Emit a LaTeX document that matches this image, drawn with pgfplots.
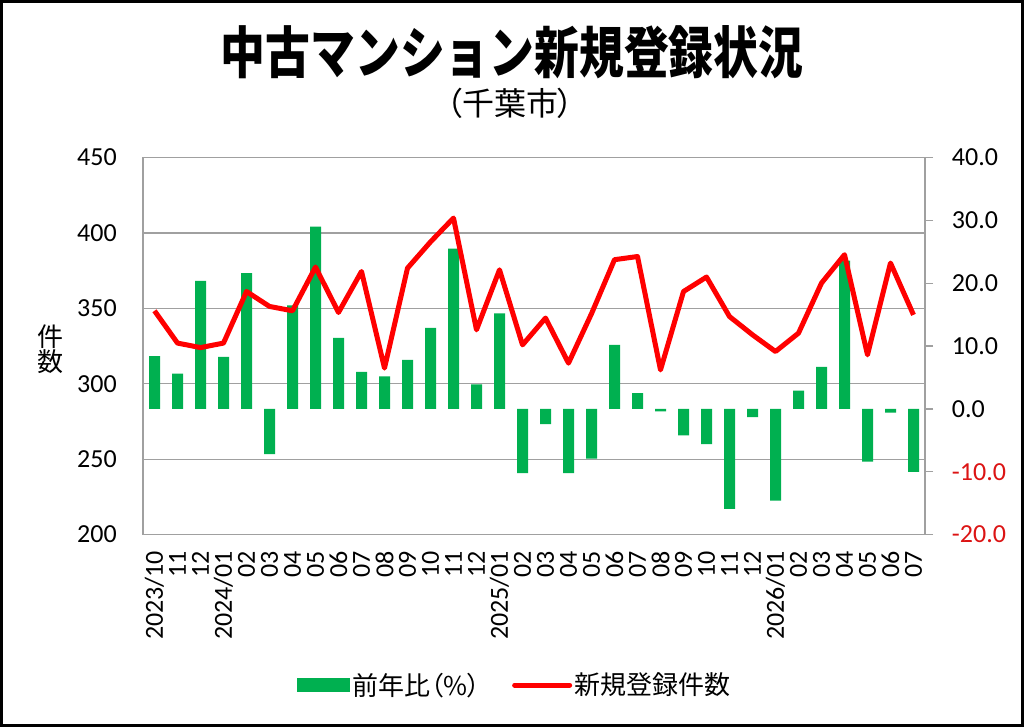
\documentclass[border=0pt]{standalone}
\usepackage{fontspec}
\setmainfont{Carlito}
\newfontfamily\jp{Noto Sans CJK JP}
\newfontfamily\jpp[RawFeature=+palt]{Noto Sans CJK JP}
\usepackage{graphicx}
\usepackage{pgfplots}
\pgfplotsset{compat=1.18}
\definecolor{bargreen}{RGB}{0,176,80}
\definecolor{linered}{RGB}{255,0,0}
\definecolor{gridgray}{RGB}{160,160,160}
\definecolor{negred}{RGB}{220,20,20}
\pgfplotsset{myaxis/.style={scale only axis, width=586.5pt, height=282.75pt,
  at={(107.25pt,144.3pt)}, anchor=south west, xmin=-0.5, xmax=33.5}}
\newcommand{\tickfont}{\fontsize{19.5pt}{20pt}\selectfont}
\begin{document}
\begin{tikzpicture}[x=1pt,y=1pt]
\useasboundingbox (0,0) rectangle (768,545.25);
\fill[white] (0,0) rectangle (768,545.25);
% grid / left axis / x labels
\begin{axis}[myaxis, ymin=200, ymax=450,
  ytick={200,250,300,350,400,450},
  yticklabels={200,250,300,350,400,450},
  ymajorgrids, grid style={gridgray, line width=0.9pt},
  axis line style={gridgray, line width=0.9pt},
  tick style={draw=none}, major tick length=0pt,
  xtick={0,...,33},
  xticklabels={2023/10,11,12,2024/01,02,03,04,05,06,07,08,09,10,11,12,2025/01,02,03,04,05,06,07,08,09,10,11,12,2026/01,02,03,04,05,06,07},
  xticklabel style={rotate=90, anchor=east, inner sep=0pt, font=\tickfont},
  xticklabel shift=12pt,
  yticklabel style={anchor=east, inner sep=0pt, font=\tickfont},
  yticklabel shift=19.5pt]
\end{axis}
% bars / right axis
\begin{axis}[myaxis, ymin=-20, ymax=40,
  axis x line=none, axis y line*=right,
  axis line style={gridgray, line width=0.9pt},
  xtick=\empty,
  ytick={-20,-10,0,10,20,30,40},
  yticklabels={\textcolor{negred}{-20.0},\textcolor{negred}{-10.0},0.0,10.0,20.0,30.0,40.0},
  tick align=outside, major tick length=6pt,
  tick style={gridgray, line width=0.9pt},
  yticklabel style={anchor=west, inner sep=0pt, font=\tickfont},
  yticklabel shift=14pt]
\addplot[ybar, bar width=8.25pt, bar shift=0pt, fill=bargreen, draw=none] coordinates {
(0,8.4) (1,5.6) (2,20.4) (3,8.3) (4,21.6) (5,-7.2) (6,16.5) (7,29.0) (8,11.3) (9,5.9)
(10,5.2) (11,7.8) (12,12.9) (13,25.5) (14,3.9) (15,15.2) (16,-10.2) (17,-2.4) (18,-10.2) (19,-7.9)
(20,10.2) (21,2.5) (22,-0.4) (23,-4.2) (24,-5.6) (25,-15.9) (26,-1.3) (27,-14.6) (28,2.9) (29,6.7)
(30,23.6) (31,-8.4) (32,-0.6) (33,-10.0)};
\end{axis}
% line
\begin{axis}[myaxis, ymin=200, ymax=450, hide axis,
  legend columns=2,
  legend style={draw=none, fill=none, at={(0.4757,-0.399)}, anchor=center,
    font=\jpp\fontsize{19.5pt}{20pt}\selectfont, inner sep=0pt,
    /tikz/every even column/.append style={column sep=22pt}},
  legend cell align=left]
\addlegendimage{fill=bargreen, draw=none, legend image code/.code={\fill[bargreen] (0pt,-5.6pt) rectangle (39.75pt,5.6pt);}}
\addlegendentry{前年比（\%）}
\addplot[linered, line width=3.75pt, line join=round,
  legend image code/.code={\draw[linered, line width=3.75pt, line cap=round] (0pt,0pt) -- (41.25pt,0pt);}] coordinates {
(0,348.4) (1,327.0) (2,324.0) (3,327.0) (4,361.2) (5,351.3) (6,348.4) (7,377.4) (8,347.3) (9,374.5)
(10,310.4) (11,376.7) (12,394.1) (13,409.9) (14,335.8) (15,375.6) (16,325.8) (17,343.6) (18,313.7) (19,346.5)
(20,382.3) (21,384.4) (22,309.2) (23,361.2) (24,370.8) (25,344.6) (26,332.5) (27,321.4) (28,333.6) (29,366.8)
(30,385.6) (31,319.2) (32,380.1) (33,345.7)};
\addlegendentry{新規登録件数}
\end{axis}
\node[font=\jp\bfseries\fontsize{42pt}{42pt}\selectfont] at (384,506.25) {\scalebox{0.8}[1]{中古マンション新規登録状況}};
\node[font=\jpp\fontsize{24pt}{24pt}\selectfont] at (382.5,468) {（千葉市）};
\node[font=\jp\fontsize{19.5pt}{19pt}\selectfont, align=center] at (37.5,283.5) {件\\数};
\draw[line width=2pt] (1,1) rectangle (767,544.25);
\end{tikzpicture}
\end{document}
